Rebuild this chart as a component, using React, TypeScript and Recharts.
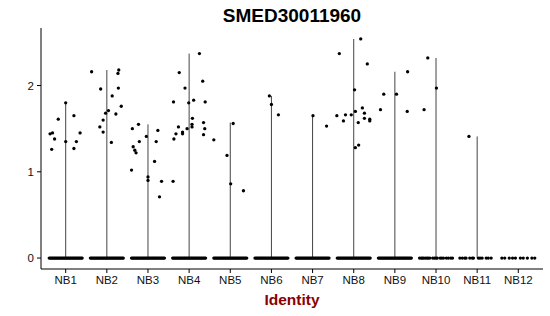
import React from "react";
import {
  ScatterChart,
  Scatter,
  XAxis,
  YAxis,
  ReferenceLine,
} from "recharts";

// cluster names along the x axis
const groups = ["NB1", "NB2", "NB3", "NB4", "NB5", "NB6", "NB7", "NB8", "NB9", "NB10", "NB11", "NB12"];

// top of each (very thin) violin, null = no violin drawn
const violinMax = [1.8, 2.18, 1.55, 2.37, 1.57, 1.88, 1.65, 2.54, 2.16, 2.32, 1.41, null];

// expressing cells per cluster: [jitter, expression]
const expressed: number[][][] = [
  [[0, 1.8], [-0.18, 1.61], [0.2, 1.65], [-0.38, 1.44], [-0.32, 1.45], [-0.27, 1.38], [0.35, 1.45], [0, 1.35], [0.26, 1.35], [-0.34, 1.26], [0.2, 1.27]],
  [[-0.37, 2.16], [0.29, 2.18], [0.27, 2.14], [-0.15, 1.96], [0.28, 1.97], [0.13, 1.88], [0.35, 1.76], [0.04, 1.71], [-0.03, 1.68], [0.22, 1.67], [-0.09, 1.6], [-0.17, 1.52], [-0.09, 1.46], [0.11, 1.34]],
  [[-0.38, 1.5], [-0.23, 1.55], [-0.04, 1.41], [0.24, 1.48], [-0.21, 1.35], [0.2, 1.35], [-0.36, 1.29], [-0.32, 1.25], [-0.29, 1.22], [0.16, 1.12], [-0.4, 1.02], [0, 0.94], [0, 0.9], [0.33, 0.89], [0.28, 0.71]],
  [[0.25, 2.37], [-0.24, 2.15], [0.33, 2.05], [-0.1, 1.97], [-0.38, 1.81], [0.11, 1.83], [-0.01, 1.8], [0.39, 1.81], [0.08, 1.62], [0.35, 1.57], [0.07, 1.55], [0.07, 1.52], [-0.26, 1.52], [-0.05, 1.5], [0.38, 1.5], [-0.16, 1.46], [-0.16, 1.44], [-0.32, 1.44], [0.35, 1.43], [-0.37, 1.38], [-0.39, 0.89]],
  [[-0.4, 1.37], [0.07, 1.56], [-0.08, 1.19], [0.01, 0.86], [0.32, 0.78]],
  [[-0.05, 1.88], [0, 1.78], [0.17, 1.66]],
  [[0.01, 1.65], [0.34, 1.53]],
  [[0.17, 2.54], [-0.35, 2.37], [0.33, 2.25], [0.02, 1.95], [0.04, 1.7], [0.21, 1.74], [0.26, 1.68], [-0.2, 1.66], [-0.41, 1.65], [-0.06, 1.66], [0.26, 1.62], [0.39, 1.61], [0.39, 1.59], [-0.25, 1.59], [0.11, 1.57], [0.12, 1.31], [0.04, 1.28]],
  [[0.31, 2.16], [-0.27, 1.9], [0.04, 1.9], [-0.35, 1.72], [0.3, 1.7]],
  [[-0.2, 2.32], [0.01, 1.97], [-0.29, 1.72]],
  [[-0.2, 1.41]],
  [],
];

// jitter of the zero-expression cells (dense clusters share one list)
const zeroJitterDense = [
  -0.4, -0.375, -0.35, -0.325, -0.3, -0.275, -0.25, -0.225, -0.2, -0.175, -0.15, -0.125, -0.1, -0.075, -0.05, -0.025, 0,
  0.025, 0.05, 0.075, 0.1, 0.125, 0.15, 0.175, 0.2, 0.225, 0.25, 0.275, 0.3, 0.325, 0.35, 0.375, 0.4,
];
const zeroJitterNB10 = [-0.4, -0.36, -0.33, -0.3, -0.26, -0.22, -0.19, -0.15, -0.08, -0.04, 0, 0.03, 0.1, 0.14, 0.18, 0.25, 0.3, 0.36, 0.4];
const zeroJitterNB11 = [-0.42, -0.36, -0.3, -0.27, -0.18, -0.12, -0.09, 0.03, 0.07, 0.12, 0.22, 0.27, 0.34];
const zeroJitterNB12 = [-0.4, -0.33, -0.22, -0.14, -0.07, 0.05, 0.12, 0.22, 0.33, 0.4];

const yTicks = [0, 1, 2];

const zeroJitter = groups.map((_, i) =>
  i === 9 ? zeroJitterNB10 : i === 10 ? zeroJitterNB11 : i === 11 ? zeroJitterNB12 : zeroJitterDense
);

const points: { x: number; y: number }[] = [];
groups.forEach((_, i) => {
  zeroJitter[i].forEach((j) => points.push({ x: i + 1 + j, y: 0 }));
  expressed[i].forEach(([j, v]) => points.push({ x: i + 1 + j, y: v }));
});

const Dot = (props: any) => <circle cx={props.cx} cy={props.cy} r={1.65} fill="#000" />;

const font = "'Liberation Sans', Arial, sans-serif";

export default function App() {
  return (
    <div style={{ position: "absolute", left: 0, top: 0, width: 550, height: 316, background: "#fff" }}>
      <ScatterChart width={550} height={316} margin={{ top: 28, right: 7, bottom: 17, left: 0 }}>
        <XAxis
          type="number"
          dataKey="x"
          domain={[0.4, 12.6]}
          ticks={groups.map((_, i) => i + 1)}
          tickFormatter={(v: number) => groups[v - 1]}
          allowDataOverflow
          height={30}
          tickSize={4}
          tickMargin={3}
          stroke="#000"
          tick={{ fill: "#111", fontSize: 11.5, fontFamily: font }}
        />
        <YAxis
          type="number"
          dataKey="y"
          domain={[-0.127, 2.667]}
          ticks={yTicks}
          allowDataOverflow
          width={41}
          tickSize={4}
          tickMargin={3}
          stroke="#000"
          tick={{ fill: "#111", fontSize: 11.5, fontFamily: font }}
        />
        {violinMax.map((m, i) =>
          m == null ? null : (
            <ReferenceLine
              key={groups[i]}
              segment={[{ x: i + 1, y: 0 }, { x: i + 1, y: m }]}
              stroke="#444"
              strokeWidth={1}
            />
          )
        )}
        <Scatter data={points} shape={Dot} isAnimationActive={false} />
      </ScatterChart>
      <svg width={550} height={316} style={{ position: "absolute", left: 0, top: 0, pointerEvents: "none" }}>
        <text x={292} y={22} textAnchor="middle" fontFamily={font} fontWeight="bold" fontSize={19} fill="#000">
          SMED30011960
        </text>
        <text x={292} y={305} textAnchor="middle" fontFamily={font} fontWeight="bold" fontSize={15.5} fill="#8B0000">
          Identity
        </text>
      </svg>
    </div>
  );
}
